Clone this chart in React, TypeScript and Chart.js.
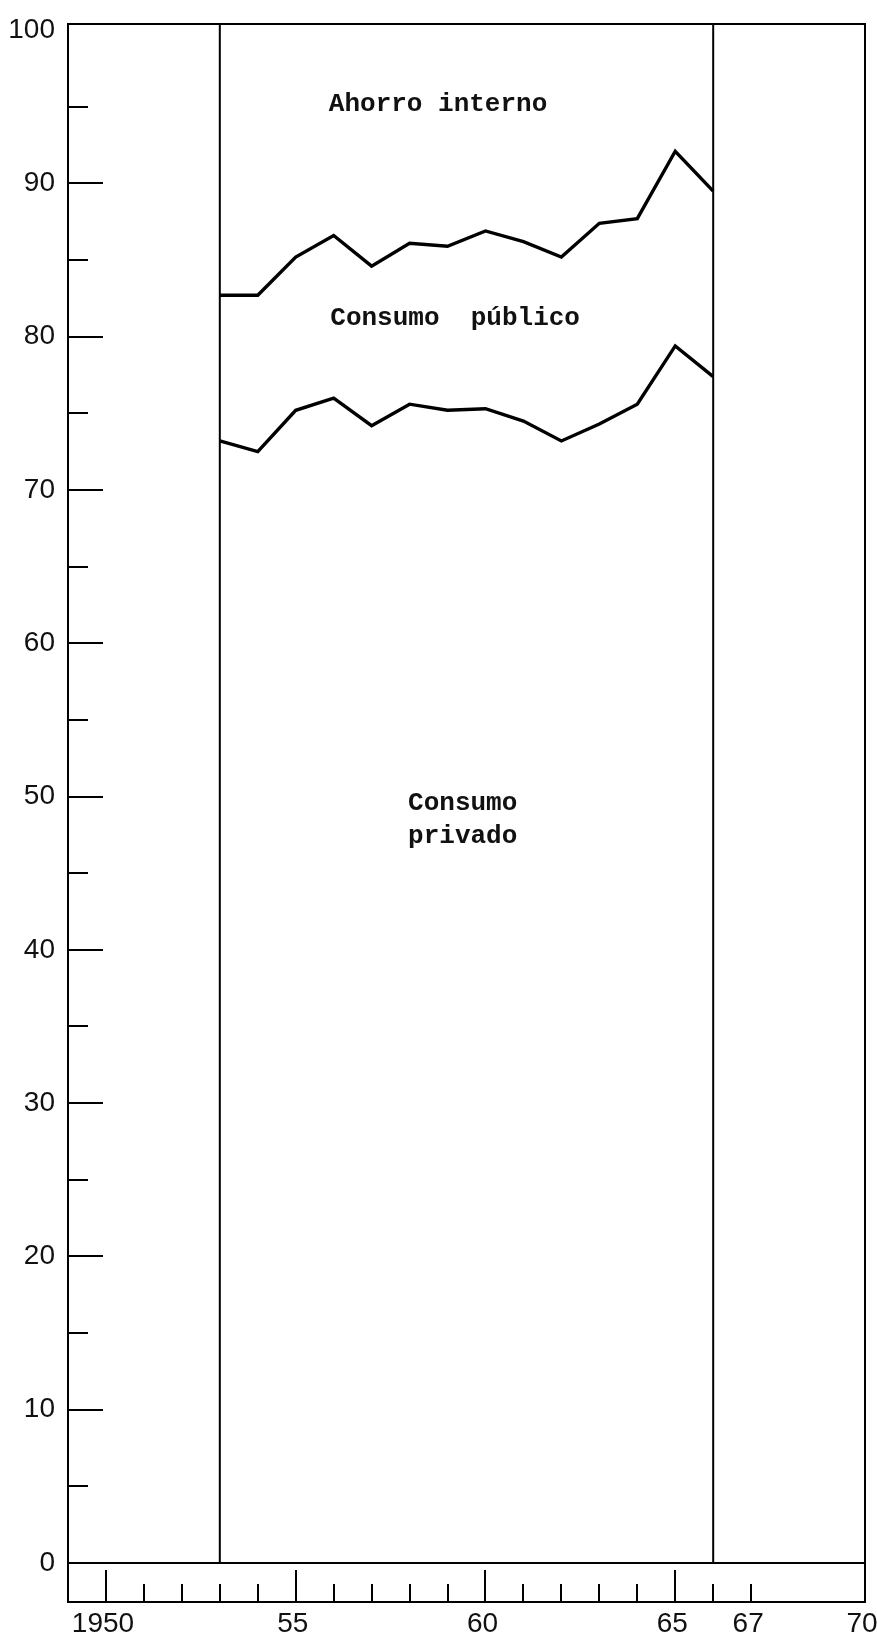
import React, { useEffect, useRef } from "react";
import { Chart, registerables } from "chart.js";

Chart.register(...registerables);

// ---- Data ----
const years = [1953, 1954, 1955, 1956, 1957, 1958, 1959, 1960, 1961, 1962, 1963, 1964, 1965, 1966];
// Upper line: consumo privado + consumo público (rest up to 100 = ahorro interno)
const consumoTotal = [82.7, 82.7, 85.2, 86.6, 84.6, 86.1, 85.9, 86.9, 86.2, 85.2, 87.4, 87.7, 92.1, 89.5];
// Lower line: consumo privado
const consumoPrivado = [73.2, 72.5, 75.2, 76.0, 74.2, 75.6, 75.2, 75.3, 74.5, 73.2, 74.3, 75.6, 79.4, 77.4];
// Period boundaries (vertical lines)
const periodBounds = [1953, 1966];

// Axis ranges and ticks
const X_MIN = 1949;
const X_MAX = 1970;
const Y_MIN = 0;
const Y_MAX = 100.4;
const yTickValues = [0, 10, 20, 30, 40, 50, 60, 70, 80, 90, 100];
const yTickLabels = ["0", "10", "20", "30", "40", "50", "60", "70", "80", "90", "100"];
const yMinorTicks = [5, 15, 25, 35, 45, 55, 65, 75, 85, 95];
const xTickValues = [1950, 1955, 1960, 1965, 1967, 1970];
const xTickLabels = ["1950", "55", "60", "65", "67", "70"];
const xMajorYears = [1950, 1955, 1960, 1965];
const xMinorYears = [1951, 1952, 1953, 1954, 1956, 1957, 1958, 1959, 1961, 1962, 1963, 1964, 1966, 1967];

// Area labels
const areaLabelTexts = [["Ahorro interno"], ["Consumo  público"], ["Consumo", "privado"]];
const areaLabelX = [1958.75, 1959.2, 1959.4];
const areaLabelY = [95.15, 81.2, 48.5];

// ---- Styles ----
const INK = "#000";
const STRIP = 39; // height of the tick strip below the 0 line
const Y_MAJOR_LEN = 35;
const Y_MINOR_LEN = 20;
const X_MAJOR_LEN = 32;
const X_MINOR_LEN = 18;
const TICK_FONT = { family: '"Liberation Sans", Arial, sans-serif', size: 28, weight: "normal" as const };
const LABEL_FONT = 'bold 26px "Liberation Mono", "DejaVu Sans Mono", monospace';
const LABEL_LINE_H = 33;

const framePlugin = {
  id: "framePlugin",
  afterDatasetsDraw(chart: any) {
    const { ctx, chartArea: a, scales } = chart;
    const x = scales.x;
    const y = scales.y;
    const zero = y.getPixelForValue(0);
    const stripBottom = zero + STRIP;
    ctx.save();
    ctx.strokeStyle = INK;
    ctx.lineCap = "square";
    ctx.lineWidth = 2;
    ctx.beginPath();
    ctx.moveTo(a.left, a.top);
    ctx.lineTo(a.right, a.top);
    ctx.moveTo(a.left, a.top);
    ctx.lineTo(a.left, stripBottom);
    ctx.moveTo(a.right, a.top);
    ctx.lineTo(a.right, stripBottom);
    ctx.moveTo(a.left, zero);
    ctx.lineTo(a.right, zero);
    ctx.moveTo(a.left, stripBottom);
    ctx.lineTo(a.right, stripBottom);
    ctx.stroke();

    // y ticks drawn inward
    ctx.lineWidth = 2;
    ctx.lineCap = "butt";
    ctx.beginPath();
    yTickValues.forEach((v) => {
      if (v === Y_MIN || v === 100) return;
      const py = Math.round(y.getPixelForValue(v));
      ctx.moveTo(a.left, py);
      ctx.lineTo(a.left + Y_MAJOR_LEN, py);
    });
    yMinorTicks.forEach((v) => {
      const py = Math.round(y.getPixelForValue(v));
      ctx.moveTo(a.left, py);
      ctx.lineTo(a.left + Y_MINOR_LEN, py);
    });
    // x ticks rising from strip bottom
    xMajorYears.forEach((yr) => {
      const px = Math.round(x.getPixelForValue(yr));
      ctx.moveTo(px, stripBottom);
      ctx.lineTo(px, stripBottom - X_MAJOR_LEN);
    });
    xMinorYears.forEach((yr) => {
      const px = Math.round(x.getPixelForValue(yr));
      ctx.moveTo(px, stripBottom);
      ctx.lineTo(px, stripBottom - X_MINOR_LEN);
    });
    ctx.stroke();

    // area labels
    ctx.fillStyle = "#111";
    ctx.font = LABEL_FONT;
    ctx.textAlign = "center";
    ctx.textBaseline = "middle";
    areaLabelTexts.forEach((lines, i) => {
      const cx = x.getPixelForValue(areaLabelX[i]);
      const cy = y.getPixelForValue(areaLabelY[i]);
      const start = cy - ((lines.length - 1) * LABEL_LINE_H) / 2;
      lines.forEach((t, j) => ctx.fillText(t, cx, start + j * LABEL_LINE_H));
    });
    ctx.restore();
  },
};

export default function App() {
  const canvasRef = useRef<HTMLCanvasElement | null>(null);

  useEffect(() => {
    const canvas = canvasRef.current;
    if (!canvas) return;
    const lineDs = (vals: number[]) => ({
      data: years.map((yr, i) => ({ x: yr, y: vals[i] })),
      borderColor: INK,
      borderWidth: 3.4,
      pointRadius: 0,
      tension: 0,
      fill: false,
      borderJoinStyle: "miter" as const,
    });
    const periodDs = periodBounds.map((yr) => ({
      data: [
        { x: yr, y: Y_MIN },
        { x: yr, y: Y_MAX },
      ],
      borderColor: INK,
      borderWidth: 2,
      pointRadius: 0,
      fill: false,
    }));
    const chart = new Chart(canvas, {
      type: "line",
      data: {
        datasets: [lineDs(consumoTotal), lineDs(consumoPrivado), ...periodDs] as any,
      },
      options: {
        animation: false,
        responsive: false,
        maintainAspectRatio: false,
        layout: { padding: { top: 24, right: 12, bottom: 0, left: 0 } },
        plugins: { legend: { display: false }, tooltip: { enabled: false } },
        events: [],
        scales: {
          x: {
            type: "linear",
            position: "bottom",
            min: X_MIN,
            max: X_MAX,
            grid: { display: false, drawTicks: false },
            border: { display: false },
            afterBuildTicks: (s: any) => {
              s.ticks = xTickValues.map((v) => ({ value: v }));
            },
            ticks: {
              autoSkip: false,
              maxRotation: 0,
              minRotation: 0,
              padding: 44,
              labelOffset: -3,
              color: "#111",
              font: TICK_FONT,
              callback: (_v: any, i: number) => xTickLabels[i],
            },
            afterFit: (s: any) => {
              s.height = 80;
              s.paddingLeft = 0;
              s.paddingRight = 0;
            },
          },
          y: {
            type: "linear",
            min: Y_MIN,
            max: Y_MAX,
            grid: { display: false, drawTicks: false },
            border: { display: false },
            afterBuildTicks: (s: any) => {
              s.ticks = yTickValues.map((v) => ({ value: v }));
            },
            ticks: {
              padding: 13,
              color: "#111",
              font: TICK_FONT,
              callback: (_v: any, i: number) => yTickLabels[i],
            },
            afterFit: (s: any) => {
              s.width = 68;
              s.paddingTop = 0;
              s.paddingBottom = 0;
            },
          },
        },
      },
      plugins: [framePlugin],
    });
    return () => chart.destroy();
  }, []);

  return (
    <div style={{ position: "absolute", left: 0, top: 0, width: 877, height: 1643, background: "#fff" }}>
      <canvas ref={canvasRef} width={877} height={1643} style={{ width: 877, height: 1643, display: "block" }} />
    </div>
  );
}
